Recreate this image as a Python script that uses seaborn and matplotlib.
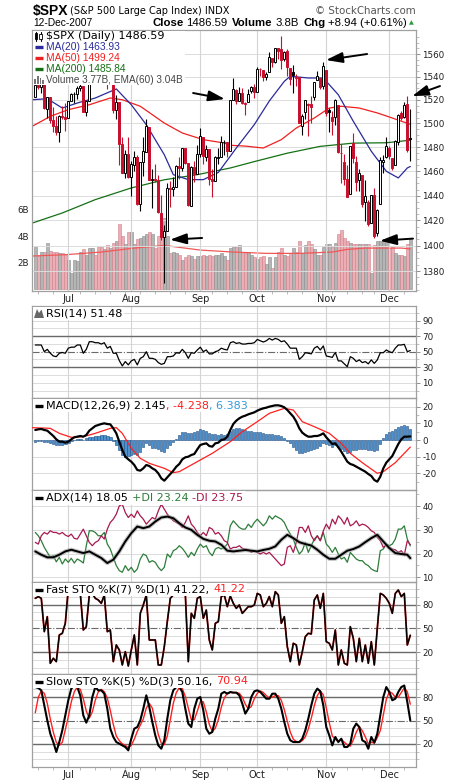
"""
$SPX daily chart with MA, volume, RSI, MACD, ADX and stochastics (StockCharts style).
"""

import numpy as np
import pandas as pd
import matplotlib
matplotlib.use("Agg")
import matplotlib.pyplot as plt
import matplotlib.ticker as mticker
from matplotlib.patches import Rectangle, Polygon
from matplotlib.lines import Line2D
import seaborn as sns

sns.set_style("white")
plt.rcParams['font.family'] = ['DejaVu Sans']
plt.rcParams['axes.unicode_minus'] = False

W, H = 460, 781

# trading days 15-Jun-2007 .. 12-Dec-2007
dates = pd.bdate_range("2007-06-15", "2007-12-12")
dates = dates[~dates.isin(pd.to_datetime(["2007-07-04", "2007-09-03", "2007-11-22"]))]
days = np.arange(len(dates))

prev_close0 = 1522.97

opens = [
    1522.97, 1532.90, 1531.05, 1533.68, 1512.50, 1522.19, 1502.56, 1497.68, 1492.62, 1506.32, 1505.70,
    1504.66, 1519.12, 1524.86, 1524.96, 1530.43, 1531.85, 1509.93, 1518.74, 1547.68, 1552.50, 1549.52,
    1549.20, 1546.13, 1553.19, 1534.06, 1541.57, 1511.03, 1518.09, 1482.44, 1458.93, 1473.90,
    1455.18, 1465.46, 1472.18, 1433.04, 1467.62, 1476.22, 1497.21, 1453.09, 1453.42, 1452.87, 1426.15,
    1406.64, 1411.26, 1445.94, 1445.55, 1447.03, 1464.05, 1462.34, 1479.36, 1466.72, 1432.01, 1463.67, 1457.61,
    1473.96, 1488.76, 1472.03, 1478.55, 1453.50, 1451.69, 1471.10, 1471.47, 1483.95, 1484.24, 1476.63,
    1519.75, 1528.69, 1518.75, 1525.75, 1516.34, 1518.62, 1527.32, 1531.24,
    1527.29, 1546.96, 1545.80, 1539.91, 1543.84, 1556.51, 1553.18, 1564.98, 1564.72, 1555.41, 1562.25,
    1547.81, 1544.44, 1539.29, 1540.00, 1497.79, 1509.30, 1516.61, 1516.15, 1522.17, 1536.92, 1539.42, 1532.15,
    1545.79, 1511.07, 1505.61, 1505.33, 1515.46, 1475.27, 1467.59, 1453.66, 1441.35, 1483.40, 1468.04,
    1453.09, 1456.70, 1434.51, 1434.71, 1417.62, 1440.74, 1409.59, 1432.95, 1467.41, 1471.83,
    1479.63, 1471.34, 1465.22, 1484.59, 1508.60, 1505.11, 1516.68, 1487.58]
highs = [
    1538.71, 1535.44, 1535.85, 1537.32, 1522.90, 1522.19, 1514.29, 1506.12, 1506.80, 1514.84, 1517.53,
    1519.45, 1526.01, 1526.57, 1532.40, 1534.26, 1531.85, 1519.34, 1547.92, 1555.10, 1555.20, 1555.32,
    1549.20, 1555.90, 1553.19, 1547.23, 1541.57, 1524.31, 1518.09, 1488.53, 1477.88, 1488.30,
    1468.38, 1476.43, 1473.23, 1467.67, 1488.30, 1503.89, 1497.21, 1462.02, 1466.29, 1456.74, 1440.78,
    1415.97, 1450.33, 1451.75, 1455.32, 1464.86, 1472.06, 1479.40, 1479.36, 1466.72, 1464.21, 1468.43, 1481.47,
    1496.40, 1488.76, 1481.49, 1478.55, 1462.25, 1472.48, 1479.50, 1489.58, 1485.99, 1484.24, 1519.89,
    1538.74, 1529.14, 1530.89, 1530.18, 1518.27, 1529.39, 1532.46, 1533.74,
    1549.02, 1548.01, 1545.84, 1544.02, 1561.91, 1556.51, 1565.26, 1565.42, 1576.09, 1563.03, 1564.74,
    1547.81, 1550.66, 1542.79, 1540.00, 1508.06, 1520.01, 1517.23, 1523.24, 1535.53, 1544.67, 1539.42, 1552.76,
    1545.79, 1513.15, 1510.84, 1521.08, 1515.46, 1482.50, 1474.09, 1464.94, 1481.37, 1492.14, 1472.67,
    1462.18, 1456.70, 1452.64, 1436.40, 1440.86, 1446.09, 1429.49, 1471.62, 1473.81, 1488.94,
    1481.16, 1471.34, 1486.09, 1508.02, 1510.63, 1518.27, 1523.57, 1511.96]
lows = [
    1522.97, 1529.31, 1525.67, 1512.36, 1504.75, 1500.74, 1492.68, 1490.54, 1484.18, 1503.41, 1493.61,
    1504.66, 1519.12, 1517.72, 1520.47, 1527.45, 1510.01, 1506.10, 1518.74, 1544.85, 1546.69, 1547.74,
    1533.67, 1546.13, 1529.20, 1534.06, 1508.62, 1503.73, 1465.30, 1458.95, 1454.32, 1454.25,
    1439.59, 1460.58, 1432.80, 1427.39, 1455.80, 1476.22, 1453.09, 1429.74, 1451.54, 1426.20, 1404.36,
    1370.60, 1411.26, 1430.54, 1439.76, 1447.03, 1453.88, 1460.14, 1465.98, 1432.01, 1432.01, 1451.25, 1457.61,
    1472.15, 1466.34, 1468.43, 1449.07, 1439.29, 1451.69, 1465.75, 1471.47, 1473.18, 1471.82, 1476.63,
    1519.75, 1516.42, 1518.75, 1516.15, 1507.13, 1518.62, 1525.81, 1521.99,
    1527.25, 1540.37, 1536.34, 1537.63, 1543.84, 1549.00, 1551.82, 1555.46, 1546.72, 1554.09, 1540.81,
    1532.74, 1526.01, 1531.76, 1500.26, 1490.40, 1503.61, 1489.56, 1500.46, 1520.18, 1536.92, 1529.55, 1529.40,
    1506.66, 1492.53, 1489.95, 1499.07, 1475.04, 1450.31, 1448.51, 1438.53, 1441.35, 1466.47, 1443.49,
    1443.99, 1430.42, 1419.28, 1415.64, 1417.62, 1406.10, 1407.43, 1432.95, 1458.36, 1470.89,
    1470.08, 1460.66, 1465.22, 1482.19, 1502.66, 1504.96, 1475.99, 1468.23]
closes = [
    1532.91, 1531.05, 1533.70, 1512.84, 1522.19, 1502.56, 1497.74, 1492.89, 1506.34, 1505.71, 1503.35,
    1519.43, 1524.87, 1525.40, 1530.44, 1531.85, 1510.12, 1518.76, 1547.70, 1552.50, 1549.52, 1549.37,
    1546.17, 1553.08, 1534.10, 1541.57, 1511.04, 1518.09, 1482.66, 1458.95, 1473.91, 1455.27,
    1465.81, 1472.20, 1433.06, 1467.67, 1476.71, 1497.49, 1453.09, 1453.64, 1452.92, 1426.54, 1406.70,
    1411.27, 1445.94, 1445.55, 1447.12, 1464.07, 1462.50, 1479.37, 1466.79, 1432.36, 1463.76, 1457.64, 1473.99,
    1489.42, 1472.29, 1478.55, 1453.55, 1451.70, 1471.49, 1471.56, 1483.95, 1484.25, 1476.65, 1519.78,
    1529.03, 1518.75, 1525.75, 1517.73, 1517.21, 1525.42, 1531.38, 1526.75,
    1547.04, 1546.63, 1539.59, 1542.84, 1557.59, 1552.58, 1565.15, 1562.47, 1554.41, 1561.80, 1548.71,
    1538.53, 1541.24, 1540.08, 1500.63, 1506.33, 1519.59, 1515.88, 1514.40, 1535.28, 1540.98, 1531.02, 1549.38,
    1508.44, 1509.65, 1502.17, 1520.27, 1475.62, 1474.77, 1453.70, 1439.18, 1481.05, 1470.58, 1451.15,
    1458.74, 1433.27, 1439.70, 1416.77, 1440.70, 1407.22, 1428.23, 1469.02, 1469.72, 1481.14,
    1472.42, 1462.79, 1485.01, 1507.34, 1504.66, 1515.96, 1477.65, 1486.59]

# volume in billions
volume = [
    3.2, 2.5, 2.8, 2.8, 3.5, 2.9, 2.8, 2.8, 2.7, 2.7, 2.6, 2.2, 1.2, 2.2, 2.1, 2.8, 3.0, 2.6, 3.1, 3.1,
    2.6, 3.2, 3.2, 3.0, 3.3, 3.1, 3.5, 3.6, 4.9, 4.0, 3.4, 4.3, 4.3, 3.4, 3.8, 3.9, 4.0, 4.2, 4.3, 4.2,
    3.1, 4.0, 4.6, 5.4, 4.0, 2.7, 2.8, 2.7, 2.6, 2.2, 2.4, 2.6, 2.5, 2.3, 2.5, 2.5, 2.6, 2.5, 2.6, 2.5,
    2.6, 2.6, 2.7, 2.5, 2.2, 3.1, 3.2, 3.2, 3.3, 2.8, 2.7, 2.8, 2.6, 2.4, 2.3, 2.4, 2.5, 1.9, 2.4, 1.6,
    2.4, 2.8, 3.1, 2.6, 2.5, 2.7, 3.1, 2.8, 3.6, 2.7, 3.3, 3.6, 3.4, 3.0, 2.6, 2.6, 3.2, 3.4, 3.4, 3.2,
    3.5, 4.2, 4.5, 3.9, 3.6, 3.5, 3.4, 3.4, 3.4, 3.4, 3.4, 3.4, 1.2, 3.3, 3.6, 3.6, 3.7, 3.7, 3.1, 3.2,
    2.7, 2.6, 2.6, 2.5, 3.4, 3.77]

# moving averages (read at sample days)
ma20_day = [-1, 4, 9, 14, 20, 27, 32, 37, 43, 46, 51, 56, 61, 67, 73, 78, 83, 85, 91, 96, 101, 106, 112, 117, 121, 124, 125]
ma20 = [1520.2, 1521.1, 1513.1, 1517.4, 1521.7, 1529.5, 1515.9, 1498.9, 1473.7, 1457.2, 1453.1, 1453.1,
        1459.0, 1479.3, 1499.0, 1519.1, 1536.1, 1540.5, 1539.0, 1539.0, 1524.5, 1501.8, 1476.6, 1460.0,
        1454.5, 1462.7, 1463.93]
ma50_day = [-1, 5, 11, 18, 25, 29, 35, 43, 49, 56, 63, 65, 70, 76, 82, 87, 93, 98, 102, 108, 114, 119, 125]
ma50 = [1497.6, 1506.0, 1511.7, 1515.9, 1521.7, 1520.2, 1514.6, 1500.3, 1491.9, 1486.3, 1483.5, 1481.6,
        1480.9, 1479.3, 1486.3, 1496.1, 1504.6, 1513.1, 1514.6, 1513.1, 1508.9, 1504.6, 1499.24]
ma200_day = [-1, 9, 20, 32, 43, 54, 65, 73, 84, 95, 106, 117, 125]
ma200 = [1417.9, 1426.0, 1436.8, 1446.3, 1453.0, 1457.2, 1462.7, 1468.0, 1475.0, 1480.7, 1483.4, 1483.7, 1485.84]
vema_day = [-1, 10, 22, 33, 43, 55, 66, 77, 88, 99, 104, 110, 122, 125]
vema = [2.5, 2.6, 2.8, 3.1, 3.3, 2.95, 2.8, 2.7, 2.7, 2.8, 3.0, 3.1, 3.1, 3.04]

rsi = [
    58.6, 58.6, 58.6, 50.0, 53.0, 48.0, 44.5, 43.6, 48.0, 49.0, 48.0, 54.5, 55.8, 55.8, 58.6, 58.6,
    48.0, 53.0, 62.8, 62.8, 61.5, 61.5, 59.8, 61.5, 54.5, 56.8, 48.0, 48.0, 38.6, 31.8, 37.3, 33.1,
    38.2, 40.2, 33.1, 41.5, 43.6, 50.0, 41.5, 41.5, 40.2, 36.0, 33.8, 35.0, 43.6, 43.6, 44.5, 48.7,
    48.0, 53.0, 48.7, 41.5, 48.7, 48.0, 52.2, 55.8, 50.0, 52.2, 47.2, 47.2, 50.0, 51.3, 54.5, 53.0,
    52.2, 61.5, 62.8, 60.6, 61.5, 59.8, 59.8, 60.6, 60.6, 61.5, 65.7, 64.0, 62.4, 64.0, 67.0, 64.9,
    67.0, 65.7, 62.8, 64.0, 59.8, 54.5, 54.5, 54.5, 40.2, 43.6, 48.7, 48.0, 47.2, 54.5, 56.8, 52.2,
    57.4, 44.5, 43.6, 42.7, 49.1, 38.2, 38.2, 34.4, 30.8, 43.6, 41.5, 37.3, 39.5, 36.0, 37.3, 34.4,
    39.5, 35.0, 39.5, 48.7, 48.7, 52.2, 50.0, 48.7, 54.5, 58.6, 58.6, 59.4, 50.0, 51.48]

macd = [
    6.0, 6.4, 6.6, 6.0, 5.6, 4.0, 2.4, 0.4, -1.0, -1.0, -1.6, -1.0, 0.4, 1.6, 2.0, 2.4, 2.0, 3.0, 5.6, 7.0,
    8.4, 9.0, 9.6, 10.0, 9.6, 9.4, 7.0, 4.0, -1.0, -6.0, -10.0, -11.6, -13.0, -15.0, -18.0, -18.4, -17.0,
    -15.0, -15.6, -17.0, -18.0, -20.0, -23.0, -24.4, -22.4, -20.4, -18.4, -16.0, -14.4, -11.6, -10.4,
    -10.0, -9.0, -8.4, -5.6, -3.0, -2.4, -2.0, -3.6, -4.0, -2.0, -1.6, 0.0, 0.4, 2.0, 6.0, 9.6, 11.6,
    13.0, 14.0, 14.6, 15.4, 16.0, 16.6, 17.6, 18.4, 19.0, 19.4, 20.0, 20.4, 20.8, 20.8, 20.4, 19.6, 18.0,
    16.0, 14.0, 11.0, 7.0, 4.4, 3.0, 2.0, 2.0, 2.4, 2.4, 3.0, 4.0, 1.6, -0.4, -2.4, -2.0, -4.4, -7.0,
    -10.0, -13.0, -14.4, -15.0, -16.0, -17.0, -18.0, -19.0, -20.4, -21.6, -24.0, -25.0, -22.0, -17.0,
    -13.6, -11.6, -9.6, -6.0, -2.4, 0.4, 2.0, 2.0, 2.145]
signal_day = [-1, 5, 8, 12, 16, 20, 25, 27, 29, 32, 35, 38, 43, 46, 48, 54, 59, 65, 69, 74, 78, 83, 86,
              89, 93, 96, 98, 102, 105, 109, 114, 116, 120, 125]
signal = [7.4, 7.0, 4.0, 1.6, 2.0, 4.0, 7.0, 7.4, 4.0, -5.0, -11.0, -14.0, -17.0, -19.6, -19.0, -13.0,
          -8.0, -1.0, 5.0, 11.0, 16.0, 19.0, 18.0, 11.0, 8.0, 5.6, 4.0, -2.0, -8.0, -13.6, -20.0, -19.0,
          -13.6, -4.238]
hist = [
    -1.0, -0.8, -0.6, -1.0, -1.4, -2.0, -2.6, -3.0, -3.0, -2.8, -2.6, -2.0, -0.8, 0.0, 0.4, 0.6, 0.2,
    1.0, 1.6, 2.0, 2.4, 2.6, 3.0, 3.0, 2.6, 2.0, -0.5, -3.0, -6.0, -9.0, -10.0, -9.6, -9.0, -8.6, -9.0,
    -7.0, -4.0, -2.0, -3.0, -4.6, -5.0, -5.6, -6.4, -7.0, -5.0, -3.0, -1.0, 0.5, 3.0, 4.6, 5.0, 4.0,
    4.2, 4.6, 5.6, 6.4, 6.2, 5.4, 4.0, 3.4, 3.6, 3.2, 3.6, 3.2, 3.4, 5.2, 6.8, 7.4, 7.2, 6.6, 6.0, 5.6,
    5.2, 5.0, 5.0, 4.6, 4.2, 3.8, 3.6, 3.4, 3.2, 3.0, 2.4, 1.4, -0.6, -2.0, -4.0, -6.0, -7.6, -8.0,
    -7.4, -6.6, -6.0, -5.4, -4.6, -3.6, -2.0, -2.6, -3.2, -4.0, -3.0, -4.2, -5.2, -6.4, -7.6, -7.0,
    -6.0, -5.8, -5.4, -5.2, -5.4, -5.8, -6.0, -6.6, -5.8, -2.4, 1.2, 3.6, 4.6, 5.4, 6.6, 7.8, 8.6,
    9.0, 8.4, 6.383]

adx = [20.9, 19.5, 18.4, 18.4, 19.5, 20.9, 21.6, 20.9, 20.2, 20.9, 19.5, 18.1, 16.0, 17.4, 20.9, 25.1,
       28.6, 31.4, 30.7, 31.4, 33.5, 35.2, 35.6, 34.9, 32.8, 31.0, 30.0, 27.9, 26.2, 25.4, 25.1, 23.7,
       21.2, 20.9, 21.2, 21.5, 21.2, 20.9, 21.5, 22.0, 23.0, 25.8, 27.9, 26.5, 24.8, 24.0, 23.4, 21.6,
       19.5, 17.8, 17.8, 19.5, 21.2, 21.9, 23.0, 24.8, 26.5, 27.9, 25.1, 22.3, 20.2, 19.8, 19.5, 18.05]
adx_day = list(days[::2]) + [125]
plus_di = [
    28.9, 27.5, 25.4, 22.6, 20.5, 18.4, 19.1, 16.5, 18.4, 15.6, 17.7, 16.3, 18.0, 16.0, 17.7, 17.0, 16.0,
    23.3, 29.6, 29.6, 28.9, 27.5, 27.5, 28.9, 24.0, 21.9, 18.4, 14.9, 12.8, 12.1, 14.9, 12.8, 14.2, 12.1,
    13.5, 17.7, 19.8, 19.1, 16.3, 17.0, 16.3, 14.2, 12.8, 14.2, 19.8, 18.4, 21.2, 21.9, 23.3, 22.2, 20.5,
    18.4, 20.5, 19.1, 21.9, 24.0, 22.6, 23.3, 20.5, 19.1, 21.9, 22.6, 21.9, 22.6, 24.0, 31.7, 33.8, 32.4,
    31.0, 30.3, 30.3, 32.4, 31.0, 33.1, 34.5, 33.1, 31.7, 33.1, 35.9, 34.5, 35.9, 35.2, 34.5, 33.1, 30.3,
    28.2, 26.1, 22.6, 19.8, 21.2, 24.7, 20.5, 23.3, 26.1, 27.5, 25.4, 28.9, 24.0, 22.6, 20.5, 22.6, 19.8,
    17.7, 18.4, 16.3, 20.5, 19.1, 17.7, 17.0, 17.0, 15.6, 14.9, 13.5, 12.8, 12.4, 21.2, 21.9, 24.0, 23.3,
    24.0, 26.1, 30.3, 30.3, 31.7, 26.1, 23.24]
minus_di = [
    24.7, 24.0, 27.5, 28.9, 28.2, 29.6, 28.9, 28.9, 28.2, 28.9, 27.8, 27.2, 28.2, 26.4, 26.1, 28.2, 30.3,
    27.5, 24.7, 23.3, 24.7, 25.4, 27.5, 26.1, 30.3, 33.1, 34.5, 36.6, 40.1, 40.8, 37.3, 35.2, 36.6, 35.2,
    38.0, 35.9, 34.5, 32.4, 33.8, 35.2, 34.5, 38.0, 40.8, 38.7, 36.6, 35.2, 33.8, 33.1, 32.4, 31.0, 33.1,
    35.9, 32.4, 31.0, 28.9, 27.5, 28.9, 27.5, 31.0, 30.3, 28.2, 28.9, 27.5, 25.4, 24.7, 21.9, 22.6, 22.6,
    23.3, 22.2, 21.9, 21.6, 20.5, 21.2, 20.5, 19.8, 20.5, 19.8, 20.5, 19.1, 17.7, 16.3, 14.9, 15.6, 22.6,
    23.3, 20.5, 24.7, 31.0, 31.0, 28.9, 31.7, 27.5, 25.4, 27.5, 25.4, 29.6, 32.4, 30.3, 34.5, 32.4, 35.9,
    34.5, 32.4, 35.2, 31.7, 32.4, 33.8, 31.7, 32.4, 32.0, 31.0, 29.6, 28.9, 26.8, 25.4, 22.6, 23.6, 22.6,
    21.9, 21.6, 20.5, 21.2, 19.4, 25.4, 23.75]

fast_k = [
    87.8, 90.0, 87.8, 45.8, 64.7, 5.9, 12.2, 8.0, 41.6, 43.7, 56.3, 100, 100, 100, 100, 94.0, 47.9, 52.0,
    92.0, 94.0, 87.8, 85.7, 81.5, 92.0, 45.8, 47.9, 8.0, 29.0, 22.7, 3.8, 20.6, 2.5, 22.7, 41.6, 3.8,
    68.9, 79.4, 92.0, 35.3, 35.3, 35.3, 3.8, 3.8, 26.9, 58.4, 87.8, 92.0, 100, 94.0, 92.0, 94.0, 8.0,
    68.9, 62.6, 87.8, 90.0, 62.6, 73.1, 35.3, 22.7, 56.3, 58.4, 90.0, 92.0, 77.3, 90.7, 81.5, 75.2, 79.4,
    68.9, 73.1, 77.3, 77.3, 79.4, 94.0, 92.0, 77.3, 81.5, 90.0, 77.3, 96.2, 92.0, 56.3, 64.7, 26.9, 8.0,
    31.1, 29.0, 3.8, 20.6, 39.5, 43.7, 42.9, 85.7, 92.0, 75.2, 94.0, 33.2, 31.1, 22.7, 47.9, 3.8, 22.7,
    5.9, 3.8, 52.1, 37.4, 8.0, 37.4, 8.0, 29.0, 5.9, 33.2, 3.8, 50.0, 94.0, 92.0, 87.8, 81.5, 68.9, 94.0,
    98.3, 90.0, 94.0, 29.0, 41.22]

slow_k = [
    93.0, 91.8, 88.8, 69.5, 50.2, 33.0, 22.3, 9.5, 22.3, 37.3, 56.6, 76.0, 91.0, 95.0, 93.0, 82.0, 56.6,
    47.2, 56.6, 80.0, 93.0, 88.8, 88.8, 84.5, 65.2, 39.5, 28.8, 22.3, 20.2, 18.0, 15.9, 11.6, 26.6, 39.5,
    41.6, 50.2, 65.2, 82.4, 67.4, 48.1, 30.9, 18.0, 13.7, 24.5, 52.4, 76.0, 88.8, 93.0, 93.0, 86.7, 65.2,
    46.0, 41.6, 65.2, 78.0, 80.2, 63.1, 39.5, 33.0, 35.2, 52.4, 65.2, 84.5, 86.7, 84.5, 86.7, 85.8, 85.8,
    82.4, 71.7, 58.8, 65.2, 80.2, 87.5, 88.8, 86.7, 82.4, 78.0, 78.0, 84.5, 84.5, 78.0, 65.2, 48.1, 33.0,
    24.5, 22.3, 22.3, 22.3, 26.6, 37.3, 52.4, 69.5, 84.5, 91.0, 87.5, 69.5, 41.6, 30.9, 18.0, 28.8, 22.3,
    26.6, 15.9, 15.9, 20.2, 39.5, 46.0, 41.6, 24.5, 22.3, 13.7, 28.8, 21.5, 33.0, 56.6, 80.2, 93.0, 86.7,
    76.0, 78.0, 86.7, 93.0, 95.0, 73.8, 50.16]
slow_d = [
    60, 80, 88, 85, 72, 52, 35, 22, 18, 22, 38, 55, 74, 87, 93, 90, 78, 62, 53, 61, 76, 87, 90, 87, 79,
    63, 45, 30, 24, 20, 18, 15, 18, 26, 36, 44, 52, 66, 72, 66, 49, 32, 21, 19, 30, 51, 72, 86, 92, 91,
    81, 66, 51, 51, 62, 74, 74, 61, 45, 36, 40, 51, 67, 79, 85, 86, 86, 86, 85, 80, 71, 65, 68, 78, 85,
    88, 86, 82, 79, 80, 82, 82, 76, 64, 49, 35, 26, 23, 22, 24, 29, 39, 53, 69, 82, 88, 83, 66, 47, 30,
    26, 23, 26, 22, 19, 17, 25, 35, 42, 37, 29, 20, 22, 21, 28, 37, 57, 77, 87, 85, 80, 80, 86, 92, 87,
    70.94]

RED = '#c8102e'
XLIM = (-1.1, 126.9)

month_idx = [i for i in range(1, len(dates)) if dates[i].month != dates[i - 1].month]
month_names = [dates[i].strftime("%b") for i in month_idx]
monday_idx = [i for i in range(len(dates)) if dates[i].weekday() == 0]

fig = plt.figure(figsize=(W / 100, H / 100), dpi=100)
fig.patch.set_facecolor('white')
renderer = fig.canvas.get_renderer()


def fx(x):
    return x / W


def fy(y):
    return 1 - y / H


def panel(top, bottom, label):
    return fig.add_axes([fx(32), fy(bottom), 384 / W, (bottom - top) / H], label=label)


def put(x, y, s, size=8, color='black', weight='normal', ha='left', family='DejaVu Sans'):
    return fig.text(fx(x), fy(y), s, fontsize=size, color=color, fontweight=weight,
                    ha=ha, va='center', family=family, zorder=6)


def row(x, y, pieces, size=8, family='DejaVu Sans'):
    placed = []
    for s, color, weight, gap in pieces:
        x += gap
        t = put(x, y, s, size, color, weight, family=family)
        placed.append((t, x))
        x += t.get_window_extent(renderer=renderer).width
    return x, placed


def px_rect(x0, y0, x1, y1, fc, ec='none', lw=0.6, z=5):
    fig.add_artist(Rectangle((fx(x0), fy(y1)), (x1 - x0) / W, (y1 - y0) / H,
                             transform=fig.transFigure, facecolor=fc, edgecolor=ec, lw=lw, zorder=z))


def marker(y, color):
    fig.add_artist(Line2D([fx(35), fx(43)], [fy(y), fy(y)], color=color, lw=2.4,
                          transform=fig.transFigure, zorder=6, solid_capstyle='butt'))


def style_panel(a, ylim, major, minor=(), grid=None, labels=False):
    a.set_xlim(*XLIM)
    a.set_ylim(*ylim)
    a.set_facecolor('none')
    for sp in a.spines.values():
        sp.set_visible(True)
        sp.set_color('#a0a0a0')
        sp.set_linewidth(0.9)
    a.yaxis.tick_right()
    a.set_yticks(major)
    a.yaxis.set_major_formatter(mticker.FormatStrFormatter('%g'))
    a.set_yticks(list(minor), minor=True)
    a.yaxis.set_minor_formatter(mticker.NullFormatter())
    a.tick_params(axis='y', which='major', right=True, left=False, length=3, width=0.7,
                  color='#909090', labelsize=6.3, pad=1.5, labelcolor='#202020')
    a.tick_params(axis='y', which='minor', right=True, left=False, length=2, width=0.5, color='#a8a8a8')
    for g in (major if grid is None else grid):
        a.axhline(g, color='#dcdcdc', lw=0.7, zorder=0)
    for m in month_idx:
        a.axvline(m, color='#d4d4d4', lw=0.8, zorder=0)
    a.set_xticks(month_idx)
    a.set_xticklabels(month_names if labels else [])
    a.tick_params(axis='x', which='major', bottom=labels, length=0, pad=2.5, labelsize=7,
                  labelcolor='#202020')
    if labels:
        a.set_xticks(monday_idx, minor=True)
        a.tick_params(axis='x', which='minor', bottom=True, length=2, width=0.5, color='#a0a0a0')
    a.set_xlabel('')
    a.set_ylabel('')


def ref_lines(a, solid, dashed):
    for v in solid:
        a.axhline(v, color='#6a6a6a', lw=1.0, zorder=1)
    for v in dashed:
        a.axhline(v, color='#6a6a6a', lw=0.8, ls='-.', zorder=1)


# ---------------- price + volume panel ----------------
ax_vol = panel(30, 291, 'vol')
ax = panel(30, 291, 'price')

prev = [prev_close0] + closes[:-1]
up = [c >= p for c, p in zip(closes, prev)]

vol_face = ['#b5b5b5' if u else '#eaaeb4' for u in up]
vol_edge = ['#8a8a8a' if u else '#d0808a' for u in up]
ax_vol.bar(days, volume, width=0.86, color=vol_face, edgecolor=vol_edge, linewidth=0.4, zorder=1)
sns.lineplot(x=vema_day, y=vema, ax=ax_vol, color='#f05858', linewidth=0.9, zorder=2)
ax_vol.set_xlim(*XLIM)
ax_vol.set_ylim(-0.15, 19.62)
for sp in ax_vol.spines.values():
    sp.set_visible(False)
ax_vol.set_xticks([])
ax_vol.yaxis.tick_left()
ax_vol.set_yticks([2, 4, 6])
ax_vol.set_yticklabels(['2B', '4B', '6B'])
ax_vol.tick_params(axis='y', length=0, pad=2, labelsize=6.3, labelcolor='#202020')
ax_vol.set_xlabel('')
ax_vol.set_ylabel('')

ax.set_yscale('log')
style_panel(ax, (1364.5, 1581.3), list(range(1380, 1561, 20)),
            minor=[v for v in range(1365, 1581, 5) if v % 20 != 0], labels=True)
ax.yaxis.set_major_formatter(mticker.FormatStrFormatter('%d'))

candle_col = ['black' if u else RED for u in up]
face = ['white' if c >= o else col for c, o, col in zip(closes, opens, candle_col)]
body_lo = [min(o, c) for o, c in zip(opens, closes)]
body_h = [max(abs(c - o), 0.4) for o, c in zip(opens, closes)]
ax.vlines(days, lows, highs, colors=candle_col, linewidth=0.8, zorder=3)
ax.bar(days, body_h, bottom=body_lo, width=0.72, color=face, edgecolor=candle_col, linewidth=0.7, zorder=4)

sns.lineplot(x=ma200_day, y=ma200, ax=ax, color='#157015', linewidth=0.9, zorder=2)
sns.lineplot(x=ma50_day, y=ma50, ax=ax, color='#f02020', linewidth=0.9, zorder=2)
sns.lineplot(x=ma20_day, y=ma20, ax=ax, color='#2a2a9c', linewidth=0.9, zorder=2)
ax.set_xlabel('')
ax.set_ylabel('')

# hand-drawn arrows
arrow_kw = dict(arrowstyle='-|>,head_length=1.0,head_width=0.32', color='black', lw=1.4,
                shrinkA=0, shrinkB=0)
for head, tail in [((96.9, 1554.7), (110.6, 1560.0)),
                   ((63.2, 1520.8), (52.6, 1526.0)),
                   ((125.6, 1523.3), (134.9, 1532.0)),
                   ((44.9, 1404.6), (55.6, 1406.0)),
                   ((114.9, 1403.8), (125.9, 1405.5))]:
    ax.annotate('', xy=head, xytext=tail, arrowprops=arrow_kw, annotation_clip=False, zorder=7)

# ---------------- indicator panels ----------------
ax_rsi = panel(306, 398, 'rsi')
style_panel(ax_rsi, (-9.4, 108.6), [90, 70, 50, 30, 10], minor=[0, 20, 40, 60, 80, 100],
            grid=[0, 10, 20, 40, 60, 80, 90, 100])
ref_lines(ax_rsi, [70, 30], [50])
sns.lineplot(x=days, y=rsi, ax=ax_rsi, color='black', linewidth=0.9, zorder=3)

ax_macd = panel(398, 490, 'macd')
style_panel(ax_macd, (-30, 25.2), [20, 10, 0, -10, -20], minor=[-25, -15, -5, 5, 15])
ax_macd.bar(days, hist, width=0.8, color='#4d91cf', edgecolor='#1f4f85', linewidth=0.4, zorder=2)
sns.lineplot(x=signal_day, y=signal, ax=ax_macd, color='#ff2020', linewidth=0.9, zorder=3)
sns.lineplot(x=days, y=macd, ax=ax_macd, color='black', linewidth=1.6, zorder=4)

ax_adx = panel(490, 582, 'adx')
style_panel(ax_adx, (8, 46.8), [40, 30, 20, 10], minor=[15, 25, 35, 45])
sns.lineplot(x=days, y=plus_di, ax=ax_adx, color='#2d7d3a', linewidth=0.9, zorder=3)
sns.lineplot(x=days, y=minus_di, ax=ax_adx, color='#a8194f', linewidth=0.9, zorder=3)
sns.lineplot(x=adx_day, y=adx, ax=ax_adx, color='#9a9a9a', linewidth=3.0, alpha=0.6, zorder=4)
sns.lineplot(x=adx_day, y=adx, ax=ax_adx, color='black', linewidth=1.4, zorder=5)

ax_fsto = panel(582, 674, 'fsto')
style_panel(ax_fsto, (-7.6, 108.4), [80, 50, 20], minor=[0, 10, 30, 40, 60, 70, 90, 100],
            grid=[0, 10, 30, 40, 60, 70, 90, 100])
ref_lines(ax_fsto, [80, 20], [50])
sns.lineplot(x=days, y=fast_k, ax=ax_fsto, color='#c01818', linewidth=1.3, zorder=3)
sns.lineplot(x=days, y=fast_k, ax=ax_fsto, color='black', linewidth=1.0, zorder=4)

ax_ssto = panel(674, 767, 'ssto')
style_panel(ax_ssto, (-9.8, 109.8), [80, 50, 20], minor=[0, 10, 30, 40, 60, 70, 90, 100],
            grid=[0, 10, 30, 40, 60, 70, 90, 100], labels=True)
ref_lines(ax_ssto, [80, 20], [50])
sns.lineplot(x=days, y=slow_d, ax=ax_ssto, color='#ff2020', linewidth=1.0, zorder=3)
sns.lineplot(x=days, y=slow_k, ax=ax_ssto, color='black', linewidth=1.5, zorder=4)

for a in (ax_rsi, ax_macd, ax_adx, ax_fsto, ax_ssto):
    a.set_xlabel('')
    a.set_ylabel('')

# ---------------- header ----------------
put(33, 11, '$SPX', size=10, weight='bold', family='Liberation Sans')
put(70, 11, '(S&P 500 Large Cap Index) INDX', size=7)
put(416, 11, '\u00a9 StockCharts.com', size=7.4, color='#555555', ha='right')
put(33, 23, '12-Dec-2007', size=7.4, family='Liberation Sans')
end, placed = row(0, 23, [('Close', 'black', 'bold', 0), ('1486.59', 'black', 'normal', 2.5),
                          ('Volume', 'black', 'bold', 5), ('3.8B', 'black', 'normal', 2.5),
                          ('Chg', 'black', 'bold', 5), ('+8.94 (+0.61%)', 'black', 'normal', 2.5)],
                  size=8.2, family='Liberation Sans')
shift = 407 - end
for t, x0 in placed:
    t.set_x(fx(x0 + shift))
put(409, 23, '\u25b2', size=4.5, color='#2a9a3a')

# ---------------- legends ----------------
leg_rows = [('$SPX (Daily) 1486.59', 'black', 36, 8, 'DejaVu Sans'),
            ('MA(20) 1463.93', '#2a2a9c', 47, 7.4, 'Liberation Sans'),
            ('MA(50) 1499.24', '#f02020', 58, 7.4, 'Liberation Sans'),
            ('MA(200) 1485.84', '#157015', 69, 7.4, 'Liberation Sans'),
            ('Volume 3.77B, EMA(60) 3.04B', '#454545', 80, 7.2, 'Liberation Sans')]
ends = []
for s, col, y, size, fam in leg_rows:
    e, _ = row(46, y, [(s, col, 'normal', 0)], size=size, family=fam)
    ends.append(e)
for y, col in [(47, '#2a2a9c'), (58, '#f02020'), (69, '#157015')]:
    marker(y, col)
# candle icon
fig.add_artist(Line2D([fx(36), fx(36)], [fy(31.5), fy(40.5)], color='black', lw=0.8,
                      transform=fig.transFigure, zorder=6))
px_rect(34.8, 33, 37.2, 38.5, 'black', 'black', z=6)
fig.add_artist(Line2D([fx(40.5), fx(40.5)], [fy(31.5), fy(40.5)], color='black', lw=0.8,
                      transform=fig.transFigure, zorder=6))
px_rect(39.3, 34, 41.7, 39, 'white', 'black', z=6)
# volume icon
for bx, top in [(34.5, 79), (37, 76), (39.5, 78), (42, 80)]:
    px_rect(bx, top, bx + 1.8, 84, '#777777', z=6)
px_rect(32.6, 30.6, max(ends) + 2, 85, 'white', z=5)

# RSI
fig.add_artist(Polygon([(fx(34), fy(318)), (fx(37), fy(309)), (fx(39), fy(313)), (fx(41.5), fy(309.5)),
                        (fx(44), fy(318))], closed=True, transform=fig.transFigure,
                       facecolor='#666666', edgecolor='none', zorder=6))
e, _ = row(46, 313.5, [('RSI(14) 51.48', 'black', 'normal', 0)])
px_rect(32.6, 307, e + 2, 320, 'white')

# MACD
marker(405.5, 'black')
e, _ = row(46, 405.5, [('MACD(12,26,9) 2.145', 'black', 'normal', 0), (', -4.238', '#ff2020', 'normal', 0),
                       (', 6.383', '#3399dd', 'normal', 0)])
px_rect(32.6, 399, e + 2, 412, 'white')

# ADX
marker(498, 'black')
e, _ = row(46, 498, [('ADX(14) 18.05', 'black', 'normal', 0), ('+DI 23.24', '#2d7d3a', 'normal', 4),
                     ('-DI 23.75', '#a8194f', 'normal', 4)])
px_rect(32.6, 491, e + 2, 504.5, 'white')

# Fast STO
marker(589.5, 'black')
e, _ = row(46, 589.5, [('Fast STO %K(7) %D(1) 41.22,', 'black', 'normal', 0),
                       ('41.22', '#ff2020', 'normal', 4)])
px_rect(32.6, 583, e + 2, 596, 'white')

# Slow STO
marker(681.5, 'black')
e, _ = row(46, 681.5, [('Slow STO %K(5) %D(3) 50.16,', 'black', 'normal', 0),
                       ('70.94', '#ff2020', 'normal', 4)])
px_rect(32.6, 675, e + 2, 688, 'white')

fig.savefig('out.png', dpi=100, facecolor='white')
